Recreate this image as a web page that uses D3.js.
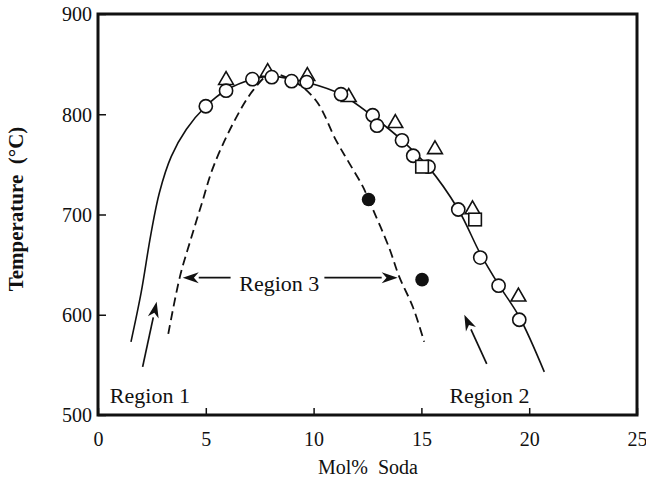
<!DOCTYPE html>
<html>
<head>
<meta charset="utf-8">
<script src="https://cdn.jsdelivr.net/npm/d3@7"></script>
<style>
  html, body { margin: 0; padding: 0; background: #fff; }
  svg { display: block; }
  text { font-family: "Liberation Serif", "DejaVu Serif", serif; fill: #111; }
</style>
</head>
<body>
<svg id="chart" width="646" height="482"></svg>
<script>
// Liquidus temperature vs. soda content
const xTicks = [0, 5, 10, 15, 20, 25];
const yTicks = [500, 600, 700, 800, 900];

// measured points: [mol% soda, temperature °C]
const openCircles = [
  [5.0, 808], [5.94, 823.5], [7.16, 835], [8.06, 837], [8.98, 833], [9.68, 832],
  [11.27, 820], [12.74, 799], [12.94, 788.6], [14.1, 774], [14.62, 758.6],
  [15.33, 747.7], [16.71, 705], [17.73, 657], [18.58, 629], [19.54, 595]
];
const openTriangles = [
  [5.94, 834], [7.87, 842], [9.71, 838], [11.63, 817], [13.79, 791],
  [15.63, 765], [17.37, 705], [19.5, 618]
];
const openSquares = [[15.03, 747.7], [17.49, 695]];
const filledCircles = [[12.55, 715], [15.03, 635]];

// liquidus curve (solid) and metastable boundary (dashed)
const solidCurve = [
  [1.53, 573], [2.0, 622], [2.45, 680], [2.85, 722], [3.4, 758], [4.1, 785],
  [5.0, 808], [5.94, 824], [7.16, 835], [8.06, 838], [8.98, 835], [9.68, 832],
  [11.27, 820], [12.8, 797], [14.1, 774], [15.3, 748], [16.71, 705],
  [17.73, 661], [18.58, 630], [19.54, 598], [20.7, 543]
];
const dashedCurve = [
  [3.26, 581], [3.8, 638], [4.3, 675], [4.8, 710], [5.34, 747], [6.27, 791],
  [7.2, 824], [8.0, 840], [9.0, 834], [10.1, 814], [11.04, 774], [11.66, 751],
  [12.28, 728], [12.55, 715], [13.5, 667], [13.97, 638], [14.6, 608], [15.13, 573]
];

// annotation labels and arrows (data coordinates)
const regionLabels = [
  { text: "Region 1", x: 0.55, y: 512 },
  { text: "Region 2", x: 16.3, y: 512 },
  { text: "Region 3", x: 6.55, y: 624 }
];
const arrows = [
  { from: [2.07, 548], to: [2.72, 613] },
  { from: [18.03, 551], to: [16.99, 600] },
  { from: [6.15, 637], to: [3.93, 637] },
  { from: [10.5, 637], to: [13.9, 637] }
];

const svg = d3.select("#chart");
const x = d3.scaleLinear().domain([0, 25]).range([98, 637]);
const y = d3.scaleLinear().domain([500, 900]).range([415, 14]);

// frame
svg.append("rect")
  .attr("x", x(0)).attr("y", y(900))
  .attr("width", x(25) - x(0)).attr("height", y(500) - y(900))
  .attr("fill", "none").attr("stroke", "#111").attr("stroke-width", 3);

// axes with inward ticks
const xAxis = svg.append("g").attr("transform", `translate(0,${y(500)})`)
  .call(d3.axisBottom(x).tickValues(xTicks).tickSizeInner(-7).tickSizeOuter(0).tickPadding(17));
const yAxis = svg.append("g").attr("transform", `translate(${x(0)},0)`)
  .call(d3.axisLeft(y).tickValues(yTicks).tickSizeInner(-8).tickSizeOuter(0).tickPadding(6));
[xAxis, yAxis].forEach(g => {
  g.select(".domain").remove();
  g.selectAll(".tick line").attr("stroke", "#111").attr("stroke-width", 1.5);
  g.selectAll(".tick text")
    .style("font-family", "'Liberation Serif', serif")
    .style("font-size", "20px").attr("fill", "#111");
});
yAxis.selectAll(".tick text").attr("dy", "0.34em");

// axis titles
svg.append("text")
  .attr("x", 368).attr("y", 474).attr("text-anchor", "middle")
  .style("font-size", "20px").style("white-space", "pre")
  .text("Mol%  Soda");
svg.append("text")
  .attr("transform", "translate(23,209) rotate(-90)")
  .attr("text-anchor", "middle")
  .style("font-size", "21px").style("font-weight", "bold").style("white-space", "pre")
  .text("Temperature  (°C)");

// curves
const line = d3.line().x(d => x(d[0])).y(d => y(d[1])).curve(d3.curveCatmullRom.alpha(0.5));
svg.append("path").attr("d", line(solidCurve))
  .attr("fill", "none").attr("stroke", "#111").attr("stroke-width", 1.6);
svg.append("path").attr("d", line(dashedCurve))
  .attr("fill", "none").attr("stroke", "#111").attr("stroke-width", 1.8)
  .attr("stroke-dasharray", "9,5");

// arrows
arrows.forEach(a => {
  const x1 = x(a.from[0]), y1 = y(a.from[1]), x2 = x(a.to[0]), y2 = y(a.to[1]);
  const ang = Math.atan2(y2 - y1, x2 - x1);
  const L = 16, W = 5.5;
  const bx = x2 - L * Math.cos(ang), by = y2 - L * Math.sin(ang);
  svg.append("line").attr("x1", x1).attr("y1", y1).attr("x2", bx).attr("y2", by)
    .attr("stroke", "#111").attr("stroke-width", 1.7);
  const px = -Math.sin(ang) * W, py = Math.cos(ang) * W;
  svg.append("path")
    .attr("d", `M${x2},${y2}L${bx + px},${by + py}L${bx + 0.3 * L * Math.cos(ang)},${by + 0.3 * L * Math.sin(ang)}L${bx - px},${by - py}Z`)
    .attr("fill", "#111");
});

// region labels
svg.selectAll("text.region").data(regionLabels).enter().append("text")
  .attr("class", "region")
  .attr("x", d => x(d.x)).attr("y", d => y(d.y))
  .style("font-size", "22px")
  .text(d => d.text);

// markers
const sym = (type, size) => d3.symbol().type(type).size(size)();
svg.selectAll("path.tri").data(openTriangles).enter().append("path")
  .attr("class", "tri")
  .attr("transform", d => `translate(${x(d[0])},${y(d[1])})`)
  .attr("d", sym(d3.symbolTriangle, 95))
  .attr("fill", "#fff").attr("stroke", "#111").attr("stroke-width", 1.6);
svg.selectAll("circle.open").data(openCircles).enter().append("circle")
  .attr("class", "open")
  .attr("cx", d => x(d[0])).attr("cy", d => y(d[1])).attr("r", 6.6)
  .attr("fill", "#fff").attr("stroke", "#111").attr("stroke-width", 1.6);
svg.selectAll("rect.sq").data(openSquares).enter().append("rect")
  .attr("class", "sq")
  .attr("x", d => x(d[0]) - 6.3).attr("y", d => y(d[1]) - 6.3)
  .attr("width", 12.6).attr("height", 12.6)
  .attr("fill", "#fff").attr("stroke", "#111").attr("stroke-width", 1.6);
svg.selectAll("circle.filled").data(filledCircles).enter().append("circle")
  .attr("class", "filled")
  .attr("cx", d => x(d[0])).attr("cy", d => y(d[1])).attr("r", 6.8)
  .attr("fill", "#111");
</script>
</body>
</html>
